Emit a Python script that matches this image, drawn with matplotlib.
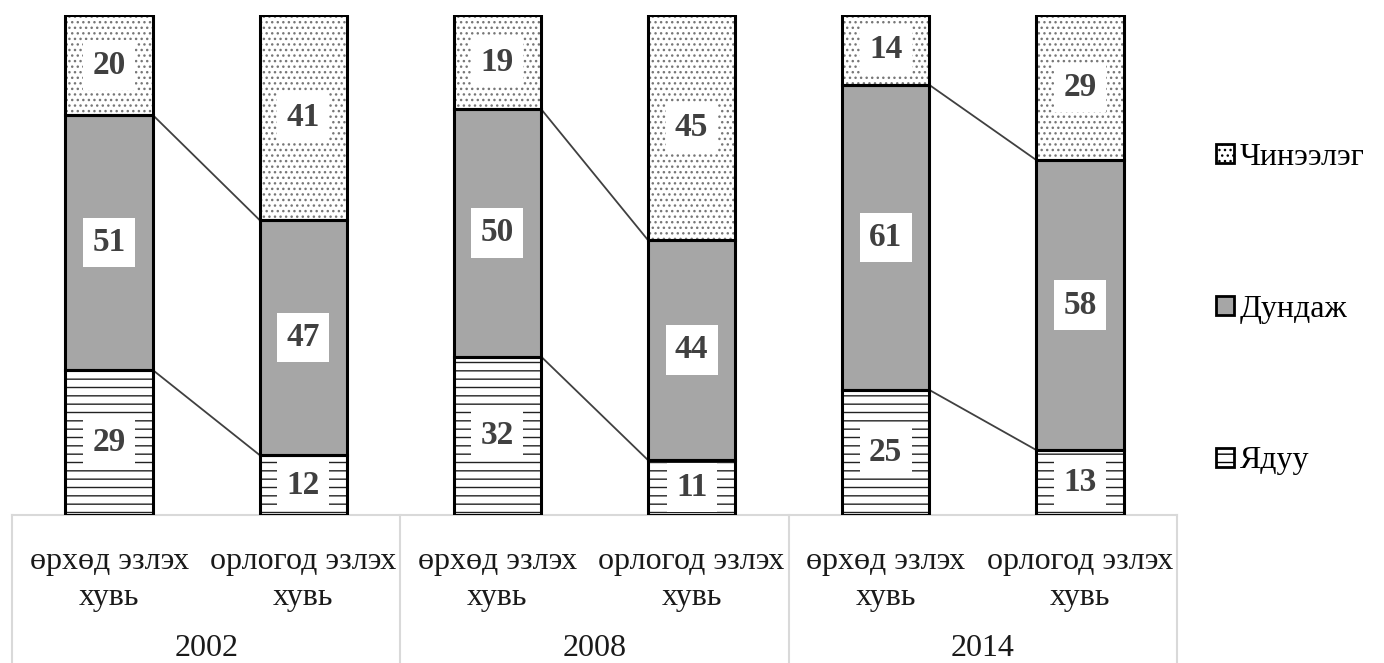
import matplotlib
matplotlib.use("Agg")
import matplotlib.pyplot as plt
from matplotlib.patches import Patch
import numpy as np

# ---- data ----
years = ['2002', '2008', '2014']
subcats = ['өрхөд эзлэх', 'орлогод эзлэх']
subcat_line2 = 'хувь'
series_names = ['Ядуу', 'Дундаж', 'Чинээлэг']
poor = [29, 12, 32, 11, 25, 13]
middle = [51, 47, 50, 44, 61, 58]
rich = [20, 41, 19, 45, 14, 29]

plt.rcParams['font.family'] = ['Liberation Serif', 'DejaVu Serif']
plt.rcParams['hatch.linewidth'] = 1.0

W, H = 1384, 663
fig = plt.figure(figsize=(W / 100, H / 100), dpi=100)
ax = fig.add_axes([12 / W, (H - 515) / H, (1177 - 12) / W, 500 / H])

vals = np.array([poor, middle, rich], dtype=float)
tot = vals.sum(axis=0)
pct = vals / tot * 100
x = np.arange(len(poor))
bw = 0.45

colors = ['white', '#a6a6a6', 'white']
hatches = ['--', None, '...']
hatch_cols = ['#222222', '#a6a6a6', '#777777']
bottom = np.zeros(len(x))
for i in range(3):
    # fill + hatch (hatch colour from edgecolor), then black outline
    ax.bar(x, pct[i], bw, bottom=bottom, color=colors[i], edgecolor=hatch_cols[i],
           linewidth=0, hatch=hatches[i], zorder=2)
    ax.bar(x, pct[i], bw, bottom=bottom, fill=False, edgecolor='black',
           linewidth=2.2, label=series_names[i], zorder=3)
    for j in range(len(x)):
        ax.text(x[j], bottom[j] + pct[i][j] / 2, f'{int(vals[i][j])}', ha='center', va='center',
                fontsize=24, fontweight='bold', color='#404040', zorder=4,
                bbox=dict(boxstyle='square,pad=0.28', fc='white', ec='none'))
    bottom = bottom + pct[i]

# series lines
cum = np.cumsum(pct, axis=0)
for k in range(0, len(x), 2):
    for i in range(2):
        ax.plot([x[k] + bw / 2, x[k + 1] - bw / 2], [cum[i][k], cum[i][k + 1]],
                color='#404040', lw=1.3, zorder=1)

ax.set_xlim(-0.5, len(x) - 0.5)
ax.set_ylim(0, 100)
for s in ax.spines.values():
    s.set_visible(False)
ax.set_xticks([])
ax.set_yticks([])

# category table
gc = '#d9d9d9'
trans = ax.get_xaxis_transform()
ax.plot([-0.5, len(x) - 0.5], [0, 0], color=gc, lw=1.5, transform=trans, clip_on=False, zorder=0)
for xv in [-0.5, 1.5, 3.5, 5.5]:
    ax.plot([xv, xv], [0, -0.4], color=gc, lw=1.5, transform=trans, clip_on=False, zorder=0)
for j in range(len(x)):
    ax.text(x[j], -0.092, subcats[j % 2], ha='center', va='center', fontsize=23,
            color='#1a1a1a', transform=trans)
    ax.text(x[j], -0.165, subcat_line2, ha='center', va='center', fontsize=23,
            color='#1a1a1a', transform=trans)
for g, yr in enumerate(years):
    ax.text(2 * g + 0.5, -0.268, yr, ha='center', va='center', fontsize=23,
            color='#1a1a1a', transform=trans)

# legend
handles = [Patch(facecolor=colors[i], edgecolor='black', linewidth=2.0, hatch=hatches[i],
                 label=series_names[i]) for i in range(3)][::-1]
fig.legend(handles=handles, loc='center left', bbox_to_anchor=(1200 / W, (H - 309) / H),
           frameon=False, fontsize=23, handlelength=0.55, handleheight=0.55,
           handletextpad=0.2, labelspacing=3.85, borderpad=0)

fig.savefig('out.png', dpi=100)
